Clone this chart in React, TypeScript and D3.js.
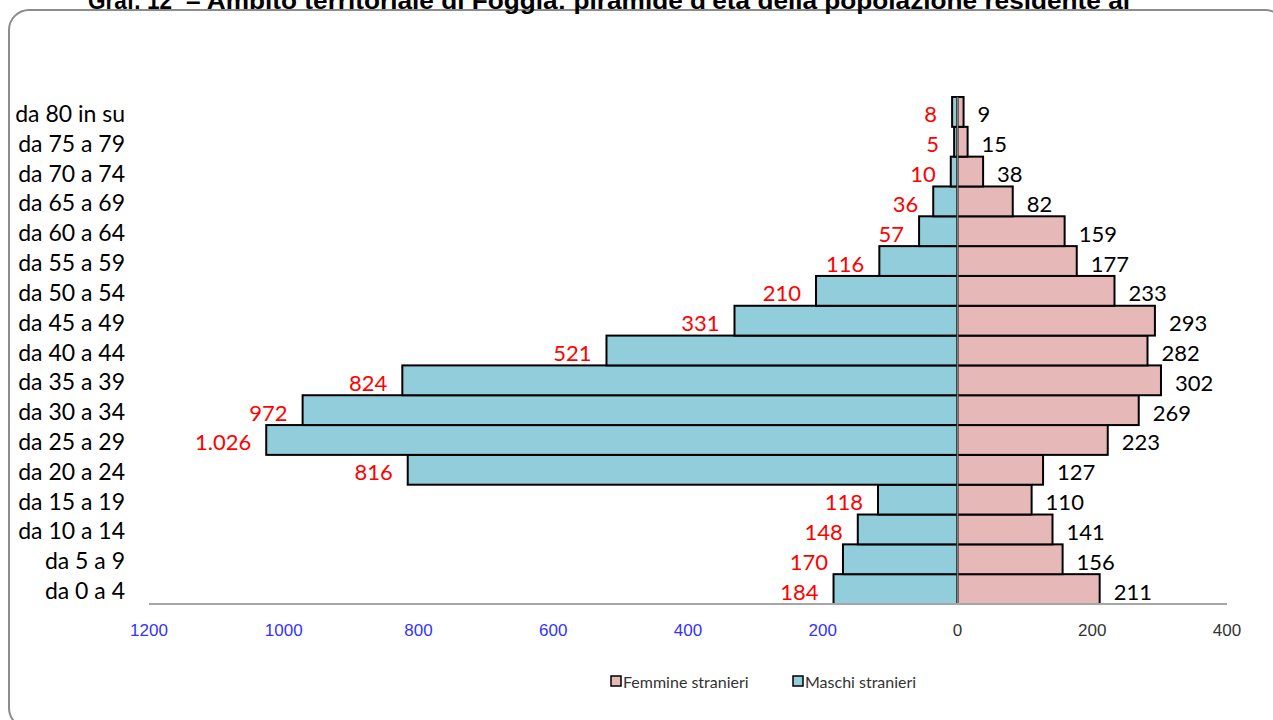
import React, { useEffect, useRef } from "react";
import * as d3 from "d3";

// classi di età, dal basso verso l'alto
const ages = [
  "da 0 a 4", "da 5 a 9", "da 10 a 14", "da 15 a 19", "da 20 a 24", "da 25 a 29",
  "da 30 a 34", "da 35 a 39", "da 40 a 44", "da 45 a 49", "da 50 a 54", "da 55 a 59",
  "da 60 a 64", "da 65 a 69", "da 70 a 74", "da 75 a 79", "da 80 in su",
];
const maschi = [184, 170, 148, 118, 816, 1026, 972, 824, 521, 331, 210, 116, 57, 36, 10, 5, 8];
const femmine = [211, 156, 141, 110, 127, 223, 269, 302, 282, 293, 233, 177, 159, 82, 38, 15, 9];
const ticks = [-1200, -1000, -800, -600, -400, -200, 0, 200, 400];

const W = 1273;
const H = 720;
const FONT = "Lato, 'Open Sans', sans-serif";

const itFormat = d3
  .formatLocale({ decimal: ",", thousands: ".", grouping: [3], currency: ["€", ""] })
  .format(",d");

const App = () => {
  const svgRef = useRef<SVGSVGElement>(null);

  useEffect(() => {
    const svg = d3.select(svgRef.current);
    svg.selectAll("*").remove();

    const rows = ages.map((a, i) => ({ age: a, m: maschi[i], f: femmine[i] }));

    const x = d3.scaleLinear().domain([-1200, 400]).range([149, 1227]);
    const y = d3
      .scaleBand()
      .domain(ages.slice().reverse())
      .range([97, 604])
      .padding(0);

    // cornice
    svg
      .append("rect")
      .attr("x", 9)
      .attr("y", 10)
      .attr("width", 1276)
      .attr("height", 718)
      .attr("rx", 20)
      .attr("fill", "none")
      .attr("stroke", "#8c8c8c")
      .attr("stroke-width", 2);

    // titolo (tagliato in alto come nell'originale)
    svg
      .append("text")
      .attr("x", 88)
      .attr("y", 9)
      .attr("textLength", 84)
      .attr("lengthAdjust", "spacingAndGlyphs")
      .style("font-family", "'Liberation Sans', Arial, sans-serif")
      .style("font-weight", "bold")
      .style("font-size", "24px")
      .text("Graf. 12");
    svg
      .append("text")
      .attr("x", 186)
      .attr("y", 9)
      .attr("textLength", 944)
      .attr("lengthAdjust", "spacingAndGlyphs")
      .style("font-family", "'Liberation Sans', Arial, sans-serif")
      .style("font-weight", "bold")
      .style("font-size", "24px")
      .text("– Ambito territoriale di Foggia: piramide d'età della popolazione residente al");

    // barre maschi
    svg
      .selectAll(".m")
      .data(rows)
      .enter()
      .append("rect")
      .attr("class", "m")
      .attr("x", (d) => x(-d.m))
      .attr("y", (d) => y(d.age)!)
      .attr("width", (d) => x(0) - x(-d.m))
      .attr("height", y.bandwidth())
      .attr("fill", "#92CDDC")
      .attr("stroke", "#000")
      .attr("stroke-width", 2);

    // barre femmine
    svg
      .selectAll(".f")
      .data(rows)
      .enter()
      .append("rect")
      .attr("class", "f")
      .attr("x", x(0))
      .attr("y", (d) => y(d.age)!)
      .attr("width", (d) => x(d.f) - x(0))
      .attr("height", y.bandwidth())
      .attr("fill", "#E6B9B8")
      .attr("stroke", "#000")
      .attr("stroke-width", 2);

    // asse verticale
    svg
      .append("line")
      .attr("x1", x(0))
      .attr("x2", x(0))
      .attr("y1", 97)
      .attr("y2", 604)
      .attr("stroke", "#808080")
      .attr("stroke-width", 1.5);

    // asse orizzontale
    svg
      .append("line")
      .attr("x1", x(-1200))
      .attr("x2", x(400))
      .attr("y1", 604)
      .attr("y2", 604)
      .attr("stroke", "#a6a6a6")
      .attr("stroke-width", 2);

    svg
      .selectAll(".tick")
      .data(ticks)
      .enter()
      .append("text")
      .attr("class", "tick")
      .attr("x", (d) => x(d))
      .attr("y", 636)
      .attr("text-anchor", "middle")
      .style("font-family", "'Liberation Sans', Arial, sans-serif")
      .style("font-size", "17px")
      .style("fill", (d) => (d < 0 ? "#3333ff" : "#333"))
      .text((d) => Math.abs(d));

    // etichette classi di età
    svg
      .selectAll(".age")
      .data(rows)
      .enter()
      .append("text")
      .attr("class", "age")
      .attr("x", 125)
      .attr("y", (d) => y(d.age)! + y.bandwidth() / 2 + 1)
      .attr("text-anchor", "end")
      .attr("dominant-baseline", "central")
      .style("font-family", FONT)
      .style("font-size", "23px")
      .style("fill", "#000")
      .text((d) => d.age);

    // valori
    svg
      .selectAll(".vm")
      .data(rows)
      .enter()
      .append("text")
      .attr("class", "vm")
      .attr("x", (d) => x(-d.m) - 15)
      .attr("y", (d) => y(d.age)! + y.bandwidth() / 2 + 2)
      .attr("text-anchor", "end")
      .attr("dominant-baseline", "central")
      .style("font-family", FONT)
      .style("font-size", "22px")
      .style("fill", "#ff0000")
      .text((d) => itFormat(d.m));

    svg
      .selectAll(".vf")
      .data(rows)
      .enter()
      .append("text")
      .attr("class", "vf")
      .attr("x", (d) => x(d.f) + 14)
      .attr("y", (d) => y(d.age)! + y.bandwidth() / 2 + 2)
      .attr("dominant-baseline", "central")
      .style("font-family", FONT)
      .style("font-size", "22px")
      .style("fill", "#000")
      .text((d) => itFormat(d.f));

    // legenda
    const legend = [
      { label: "Femmine stranieri", color: "#E6B9B8", x: 611 },
      { label: "Maschi stranieri", color: "#92CDDC", x: 793 },
    ];
    const lg = svg
      .selectAll(".lg")
      .data(legend)
      .enter()
      .append("g")
      .attr("class", "lg")
      .attr("transform", (d) => `translate(${d.x}, 676)`);
    lg.append("rect")
      .attr("width", 10)
      .attr("height", 10)
      .attr("fill", (d) => d.color)
      .attr("stroke", "#000")
      .attr("stroke-width", 1.5);
    lg.append("text")
      .attr("x", 12)
      .attr("y", 5.5)
      .attr("dominant-baseline", "central")
      .style("font-family", FONT)
      .style("font-size", "16px")
      .style("fill", "#333")
      .text((d) => d.label);
  }, []);

  return (
    <svg
      ref={svgRef}
      width={W}
      height={H}
      style={{ position: "fixed", left: 0, top: 0, background: "#fff" }}
    ></svg>
  );
};

export default App;
